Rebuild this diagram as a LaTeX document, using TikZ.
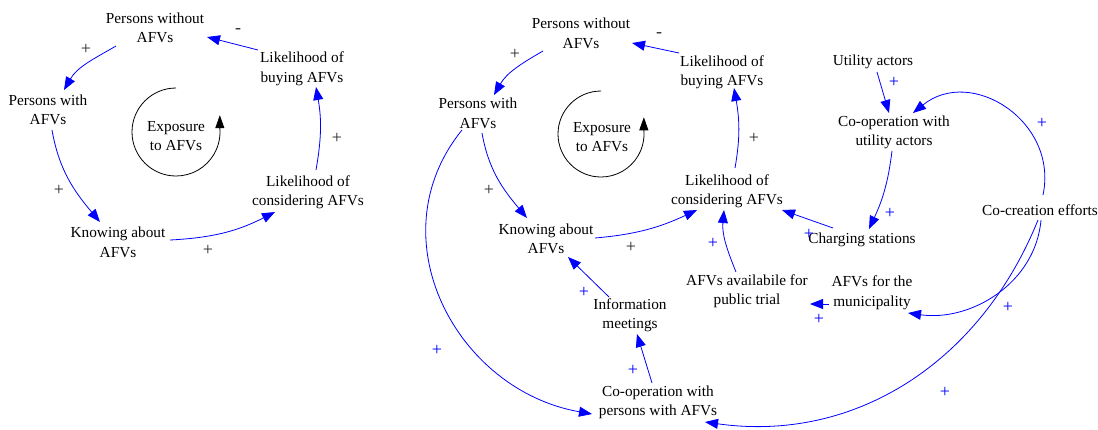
\documentclass[tikz,border=0pt]{standalone}
\usepackage{fontspec}
\setmainfont{Liberation Serif}
\usetikzlibrary{arrows.meta}
\definecolor{lnk}{RGB}{0,0,255}
\definecolor{sgncol}{RGB}{40,40,40}
\begin{document}
\begin{tikzpicture}[x=1pt,y=1pt,
  var/.style={font=\fontsize{15.3}{19.5}\selectfont, align=center, inner sep=1pt},
  conn/.style={draw=lnk, line width=0.8pt, -{Triangle[length=13pt,width=10pt]}},
  sgn/.style={font=\fontsize{18}{20}\selectfont, text=sgncol, inner sep=0pt},
  bsgn/.style={sgn, text=lnk},
  looparrow/.style={draw=black, line width=0.8pt, -{Triangle[length=13pt,width=9pt]}}]
\useasboundingbox (0,0) rectangle (1098,-429);

% ---------- left diagram ----------
\node[var] (pw1) at (155,-28) {Persons without\\AFVs};
\node[var] (lb1) at (302,-69) {Likelihood of\\buying AFVs};
\node[var] (ph1) at (48,-110) {Persons with\\AFVs};
\node[var] (ka1) at (118,-242.5) {Knowing about\\AFVs};
\node[var] (lc1) at (308,-192.5) {Likelihood of\\considering AFVs};
\node[var] (ex1) at (176,-136) {Exposure\\to AFVs};

\draw[conn] ([shift={(-44,19)}]lb1.center) -- ([shift={(52,-9)}]pw1.center);
\draw[conn] ([shift={(-39,-18)}]pw1.center) to[out=210,in=60] ([shift={(16,20)}]ph1.center);
\draw[conn] ([shift={(4,-20)}]ph1.center) to[out=-80,in=130] ([shift={(-18,20.5)}]ka1.center);
\draw[conn] ([shift={(52,2.5)}]ka1.center) to[out=3,in=207] ([shift={(-33,-19.5)}]lc1.center);
\draw[conn] ([shift={(8,22.5)}]lc1.center) to[out=80,in=-80] ([shift={(14,-18)}]lb1.center);

\draw[looparrow] (176,-132) ++(90:44) arc[start angle=90,end angle=365,radius=44] -- ++(0,13);

\node[sgn] (l1) at (238,-31) {-};
\node[sgn] (l2) at (86,-49) {+};
\node[sgn] (l3) at (59,-190) {+};
\node[sgn] (l4) at (208,-250) {+};
\node[sgn] (l5) at (337,-138) {+};

% ---------- right diagram ----------
\node[var] (pw2) at (581,-33.5) {Persons without\\AFVs};
\node[var] (lb2) at (722,-72.5) {Likelihood of\\buying AFVs};
\node[var] (ph2) at (478,-113.5) {Persons with\\AFVs};
\node[var] (ka2) at (546,-239) {Knowing about\\AFVs};
\node[var] (lc2) at (727,-191.5) {Likelihood of\\considering AFVs};
\node[var] (ex2) at (602,-137) {Exposure\\to AFVs};
\node[var] (ua) at (873,-62) {Utility actors};
\node[var] (cou) at (894,-132.5) {Co-operation with\\utility actors};
\node[var] (cs) at (862,-240) {Charging stations};
\node[var] (ce) at (1040,-210) {Co-creation efforts};
\node[var] (afm) at (872,-293) {AFVs for the\\municipality};
\node[var] (afp) at (747,-291) {AFVs availabile for\\public trial};
\node[var] (im) at (630,-315.5) {Information\\meetings};
\node[var] (cp) at (658,-402.5) {Co-operation with\\persons with AFVs};

\draw[conn] ([shift={(-43,19.5)}]lb2.center) -- ([shift={(51,-9.5)}]pw2.center);
\draw[conn] ([shift={(-38,-17.5)}]pw2.center) to[out=210,in=60] ([shift={(16,18.5)}]ph2.center);
\draw[conn] ([shift={(4,-19.5)}]ph2.center) to[out=-80,in=130] ([shift={(-19,21)}]ka2.center);
\draw[conn] ([shift={(49,1)}]ka2.center) to[out=5,in=205] ([shift={(-30,-18.5)}]lc2.center);
\draw[conn] ([shift={(8,23.5)}]lc2.center) to[out=80,in=-80] ([shift={(12,-15.5)}]lb2.center);

\draw[looparrow] (601,-134) ++(90:43) arc[start angle=90,end angle=365,radius=43] -- ++(0,13);

\draw[conn] ([shift={(4,-10)}]ua.center) -- ([shift={(-5,19.5)}]cou.center);
\draw[conn] ([shift={(-2,-18.5)}]cou.center) to[out=263,in=65] ([shift={(7,11)}]cs.center);
\draw[conn] ([shift={(-29,12)}]cs.center) -- ([shift={(55,-18.5)}]lc2.center);
\draw[conn] ([shift={(3,15)}]ce.center) to[out=78,in=39,looseness=1.25] ([shift={(19,19.5)}]cou.center);
\draw[conn] ([shift={(1,-10)}]ce.center) to[out=265,in=-8] ([shift={(36,-20)}]afm.center);
\draw[conn] ([shift={(-2,-10)}]ce.center) to[out=248,in=-8] ([shift={(47,-19.5)}]cp.center);
\draw[conn] ([shift={(-43,-11)}]afm.center) -- ([shift={(63,-13)}]afp.center);
\draw[conn] ([shift={(-11,19)}]afp.center) to[out=112,in=-95] ([shift={(-3,-18.5)}]lc2.center);
\draw[conn] ([shift={(-21,18.5)}]im.center) -- ([shift={(22,-18)}]ka2.center);
\draw[conn] ([shift={(-6,19.5)}]cp.center) -- ([shift={(7,-18.5)}]im.center);
\draw[conn] ([shift={(-16,-16.5)}]ph2.center) to[out=231,in=170,looseness=1.13] ([shift={(-66,-11.5)}]cp.center);

\node[sgn] (r1) at (659,-35) {-};
\node[sgn] (r2) at (515,-54) {+};
\node[sgn] (r3) at (489,-190) {+};
\node[sgn] (r4) at (631,-247) {+};
\node[sgn] (r5) at (754,-138) {+};

\node[bsgn] (b1) at (894,-82) {+};
\node[bsgn] (b2) at (890,-213) {+};
\node[bsgn] (b3) at (809,-234) {+};
\node[bsgn] (b4) at (1042,-123) {+};
\node[bsgn] (b5) at (1008,-307) {+};
\node[bsgn] (b6) at (945,-392) {+};
\node[bsgn] (b7) at (819,-319) {+};
\node[bsgn] (b8) at (713,-243) {+};
\node[bsgn] (b9) at (584,-292) {+};
\node[bsgn] (b10) at (633,-370) {+};
\node[bsgn] (b11) at (437,-350) {+};
\end{tikzpicture}
\end{document}
